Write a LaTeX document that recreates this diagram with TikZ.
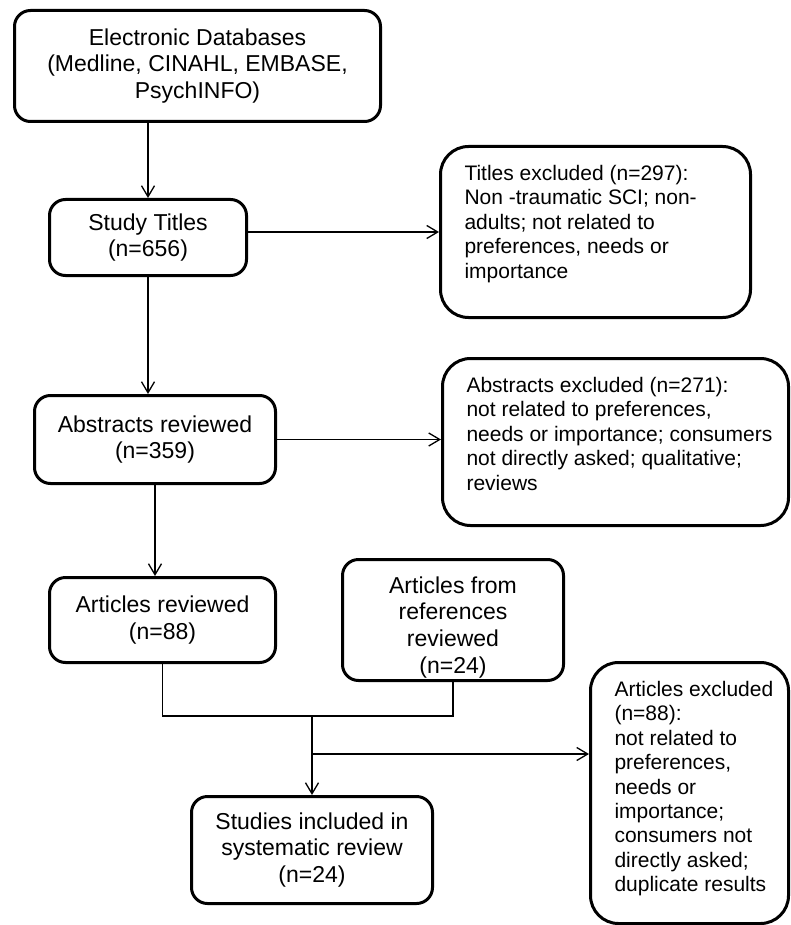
\documentclass[tikz,border=0pt]{standalone}
\usepackage{fontspec}
\setmainfont{Liberation Sans}
\usetikzlibrary{arrows.meta}
\tikzset{
  mainbox/.style={draw, line width=3pt, rounded corners=16pt, align=center, inner sep=2pt,
    font=\fontsize{23}{26.7}\selectfont},
  sidebox/.style={draw, line width=3pt, rounded corners=28pt, inner sep=0pt,
    font=\fontsize{21}{24.4}\selectfont},
  conn/.style={line width=1.3pt, draw=black},
  arr/.style={conn, -{Straight Barb[length=11pt,width=13pt]}},
}
\newcommand{\sidetxt}[3]{\parbox[c][#1][t]{#2}{\raggedright\leftskip=24pt\rule{0pt}{34pt}#3}}
\begin{document}
\begin{tikzpicture}[x=1pt,y=-1pt]
\useasboundingbox (0,0) rectangle (791,925);

% main column
\node[mainbox, minimum width=366pt, minimum height=111pt] (db) at (197.5,66)
  {Electronic Databases\\(Medline, CINAHL, EMBASE,\\PsychINFO)};
\node[mainbox, minimum width=197pt, minimum height=76pt] (titles) at (148,237.5)
  {Study Titles\\(n=656)};
\node[mainbox, minimum width=241pt, minimum height=88pt] (abstracts) at (155,439.5)
  {Abstracts reviewed\\(n=359)};
\node[mainbox, minimum width=226pt, minimum height=85pt] (articles) at (162.5,620)
  {Articles reviewed\\(n=88)};
\node[mainbox, minimum width=221pt, minimum height=121pt] (refs) at (453,620)
  {\rule{0pt}{31pt}Articles from\\references\\reviewed\\(n=24)};
\node[mainbox, minimum width=241pt, minimum height=107pt] (studies) at (312,850)
  {Studies included in\\systematic review\\(n=24)};

% exclusion boxes
\node[sidebox] (texcl) at (595.5,232)
  {\sidetxt{171pt}{310pt}{Titles excluded (n=297):\\Non -traumatic SCI; non-\\adults; not related to\\preferences, needs or\\importance}};
\node[sidebox] (aexcl) at (615.5,442)
  {\sidetxt{167pt}{346pt}{Abstracts excluded (n=271):\\not related to preferences,\\needs or importance; consumers\\not directly asked; qualitative;\\reviews}};
\node[sidebox] (arexcl) at (689.5,793)
  {\sidetxt{261pt}{198pt}{Articles excluded\\(n=88):\\not related to\\preferences,\\needs or\\importance;\\consumers not\\directly asked;\\duplicate results}};

% connectors
\draw[arr] (db.south -| titles.north) -- (titles.north);
\draw[arr] (titles.east |- texcl.west) -- (texcl.west);
\draw[arr] (titles.south) -- (titles.south |- abstracts.north);
\draw[arr] (abstracts.east) -- (abstracts.east -| aexcl.west);
\draw[arr] (abstracts.south) -- (abstracts.south |- articles.north);
\coordinate (join) at (312,716);
\coordinate (branch) at (312,754);
\draw[conn] (articles.south) |- (join) -| (refs.south);
\draw[arr] (join) -- (join |- studies.north);
\draw[arr] (branch) -- (branch -| arexcl.west);
\end{tikzpicture}
\end{document}
